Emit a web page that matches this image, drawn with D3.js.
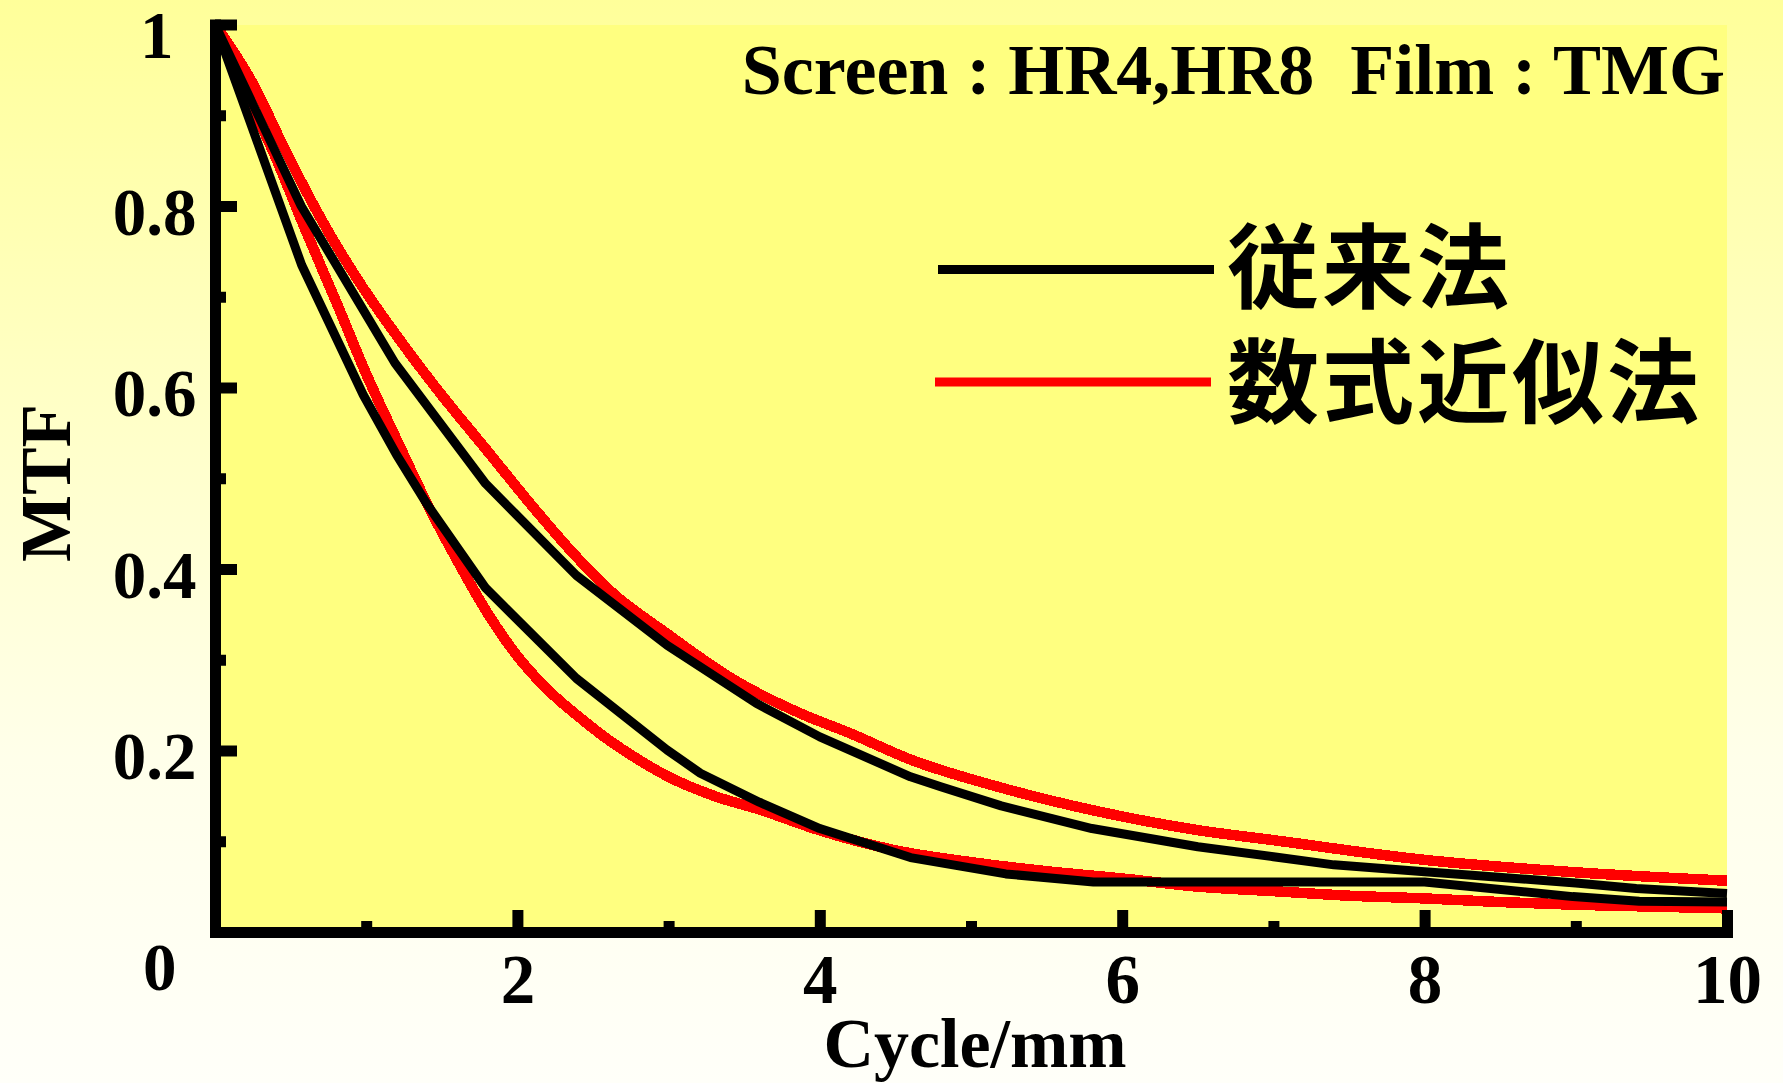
<!DOCTYPE html>
<html><head><meta charset="utf-8">
<script src="https://cdn.jsdelivr.net/npm/d3@7"></script>
<style>html,body{margin:0;padding:0;background:#fff;} svg{display:block;}</style>
</head><body>
<svg id="chart" width="1783" height="1083"></svg>
<script>
// ---- data ----
const xUpperBlack = [0, 0.57, 1.19, 1.79, 2.39, 2.99, 3.58, 4.0, 4.6, 4.8, 5.2, 5.8, 6.5, 7.0, 7.4, 8.0, 9.0, 9.4, 10.0];
const mtfUpperBlack = [1.0, 0.80, 0.627, 0.494, 0.393, 0.316, 0.252, 0.215, 0.171, 0.160, 0.139, 0.114, 0.094, 0.083, 0.074, 0.0665, 0.054, 0.048, 0.0425];

const xLowerBlack = [0, 0.573, 0.98, 1.2, 1.4, 1.79, 2.39, 2.99, 3.21, 3.6, 4.0, 4.6, 5.23, 5.81, 8.0, 8.98, 9.42, 10.0];
const mtfLowerBlack = [1.0, 0.735, 0.592, 0.526, 0.472, 0.379, 0.2795, 0.2006, 0.175, 0.143, 0.114, 0.082, 0.064, 0.055, 0.055, 0.039, 0.034, 0.033];

const xUpperRed = [0, 0.25, 0.463, 0.694, 0.959, 1.224, 1.488, 1.797, 2.105, 2.39, 2.634, 2.987, 3.43, 3.87, 4.2, 4.6, 5.2, 5.81, 6.51, 7.01, 7.97, 8.98, 10.0];
const mtfUpperRed = [1.0, 0.935, 0.862, 0.788, 0.715, 0.652, 0.594, 0.531, 0.468, 0.4135, 0.373, 0.329, 0.278, 0.241, 0.219, 0.190, 0.159, 0.134, 0.112, 0.101, 0.080, 0.066, 0.0565];

const xLowerRed = [0, 0.2, 0.4, 0.6, 0.8, 1.0, 1.2, 1.4, 1.6, 1.8, 2.0, 2.2, 2.4, 2.6, 2.8, 3.0, 3.3, 3.6, 4.0, 4.5, 5.0, 5.5, 6.0, 6.5, 7.0, 7.5, 8.0, 8.5, 9.0, 9.5, 10.0];
const mtfLowerRed = [1.0, 0.927, 0.854, 0.773, 0.695, 0.615, 0.543, 0.473, 0.41, 0.352, 0.304, 0.267, 0.238, 0.212, 0.19, 0.171, 0.150, 0.135, 0.112, 0.090, 0.077, 0.067, 0.059, 0.050, 0.045, 0.040, 0.037, 0.033, 0.030, 0.028, 0.026];

const yMajorTicks = [0, 0.2, 0.4, 0.6, 0.8, 1];
const yMinorTicks = [0.1, 0.3, 0.5, 0.7, 0.9];
const xMajorTicks = [2, 4, 6, 8, 10];
const xMinorTicks = [1, 3, 5, 7, 9];
const yTickLabels = ["0", "0.2", "0.4", "0.6", "0.8", "1"];
const xTickLabels = ["2", "4", "6", "8", "10"];
const legendLabels = ["従来法", "数式近似法"];
const titleText = "Screen : HR4,HR8  Film : TMG";
const xTitle = "Cycle/mm";
const yTitle = "MTF";

// ---- drawing ----
const svg = d3.select("#chart");
const serif = "'Liberation Serif','Times New Roman',serif";
const cjk = "'Noto Sans CJK JP','Noto Sans CJK SC',sans-serif";

const defs = svg.append("defs");
const grad = defs.append("linearGradient").attr("id", "bg").attr("x1", 0).attr("y1", 0).attr("x2", 0).attr("y2", 1);
[[0, "#FFFF9A"], [0.35, "#FFFFC4"], [0.7, "#FFFFEA"], [1, "#FFFFF9"]].forEach(s =>
  grad.append("stop").attr("offset", s[0]).attr("stop-color", s[1]));

svg.append("rect").attr("width", 1783).attr("height", 1083).attr("fill", "url(#bg)");

const x = d3.scaleLinear().domain([0, 10]).range([215, 1727]);
const y = d3.scaleLinear().domain([0, 1]).range([932, 24.5]);

svg.append("rect")
  .attr("x", x(0) + 5).attr("y", y(1) + 0.5)
  .attr("width", x(10) - x(0) - 5).attr("height", y(0) - y(1) - 0.5)
  .attr("fill", "#FFFF80");

// title
svg.append("text").attr("x", 1725).attr("y", 94)
  .attr("text-anchor", "end").style("white-space", "pre")
  .attr("font-family", serif).attr("font-weight", "bold").attr("font-size", 72)
  .text(titleText);

// curves
function mkLine(curve) {
  return d3.line().x(d => x(d[0])).y(d => y(d[1])).curve(curve);
}
const zip = (a, b) => a.map((v, i) => [v, b[i]]);
const g = svg.append("g");
[[xUpperRed, mtfUpperRed], [xLowerRed, mtfLowerRed]].forEach(([xs, ms]) => {
  g.append("path").attr("d", mkLine(d3.curveMonotoneX)(zip(xs, ms)))
    .attr("fill", "none").attr("stroke", "#FF0000").attr("stroke-width", 10.5)
    .attr("shape-rendering", "crispEdges").attr("stroke-linejoin", "round");
});
[[xUpperBlack, mtfUpperBlack], [xLowerBlack, mtfLowerBlack]].forEach(([xs, ms]) => {
  g.append("path").attr("d", mkLine(d3.curveLinear)(zip(xs, ms)))
    .attr("fill", "none").attr("stroke", "#000").attr("stroke-width", 9)
    .attr("stroke-linejoin", "round");
});

// axes
function styleAxis(sel) {
  sel.select(".domain").attr("stroke-width", 11).attr("stroke-linecap", "square").attr("stroke", "#000");
  sel.selectAll(".tick line").attr("stroke-width", 11).attr("stroke", "#000");
  sel.selectAll("text").attr("font-family", serif).attr("font-weight", "bold").attr("fill", "#000");
}

const yMinor = svg.append("g").attr("transform", `translate(${x(0)},0)`)
  .call(d3.axisLeft(y).tickValues(yMinorTicks).tickSizeInner(-11).tickSizeOuter(0).tickFormat(""));
yMinor.select(".domain").remove();
styleAxis(yMinor);

const xMinor = svg.append("g").attr("transform", `translate(0,${y(0)})`)
  .call(d3.axisBottom(x).tickValues(xMinorTicks).tickSizeInner(-11).tickSizeOuter(0).tickFormat(""));
xMinor.select(".domain").remove();
styleAxis(xMinor);

const yAxis = svg.append("g").attr("transform", `translate(${x(0)},0)`)
  .call(d3.axisLeft(y).tickValues(yMajorTicks).tickSizeInner(-22).tickSizeOuter(0).tickPadding(18.5)
    .tickFormat((d, i) => yTickLabels[i]));
styleAxis(yAxis);
yAxis.selectAll("text").attr("font-size", 67).attr("dy", "0.42em");
yAxis.selectAll(".tick").filter(d => d === 1).select("text").attr("x", -41.5).attr("dy", 32.5);
yAxis.selectAll(".tick").filter(d => d === 0).select("text").attr("x", -38.5).attr("dy", 57);

const xAxis = svg.append("g").attr("transform", `translate(0,${y(0)})`)
  .call(d3.axisBottom(x).tickValues(xMajorTicks).tickSizeInner(-22).tickSizeOuter(0)
    .tickFormat((d, i) => xTickLabels[i]));
styleAxis(xAxis);
xAxis.selectAll("text").attr("font-size", 69).attr("y", 71).attr("dy", 0);

// axis titles
svg.append("text").attr("x", 975).attr("y", 1067).attr("text-anchor", "middle")
  .attr("font-family", serif).attr("font-weight", "bold").attr("font-size", 70).text(xTitle);
svg.append("text").attr("transform", "translate(70,483) rotate(-90)").attr("text-anchor", "middle")
  .attr("font-family", serif).attr("font-weight", "bold").attr("font-size", 71).text(yTitle);

// legend
const legend = svg.append("g");
const legendColors = ["#000", "#FF0000"];
const legendLineX = [[938, 1214], [935, 1211]];
const legendLineY = [269.5, 382];
const legendTextY = [301, 416];
legendLabels.forEach((lab, i) => {
  legend.append("line").attr("x1", legendLineX[i][0]).attr("x2", legendLineX[i][1])
    .attr("y1", legendLineY[i]).attr("y2", legendLineY[i])
    .attr("stroke", legendColors[i]).attr("stroke-width", 9);
  legend.append("text").attr("x", 1227).attr("y", legendTextY[i])
    .attr("font-family", cjk).attr("font-weight", 700).attr("font-size", 92)
    .attr("letter-spacing", 3)
    .attr("fill", "#000").text(lab);
});
</script>
</body></html>
